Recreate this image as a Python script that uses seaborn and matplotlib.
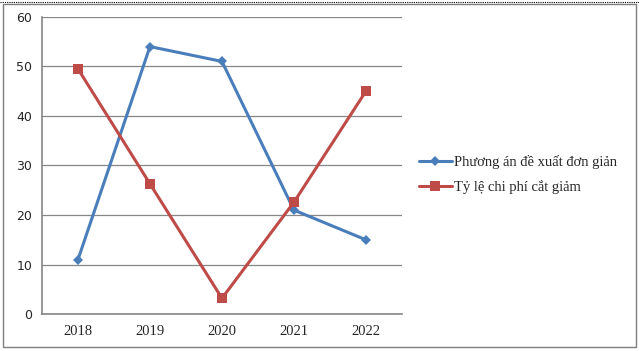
import numpy as np
import pandas as pd
import matplotlib.pyplot as plt
from matplotlib.patches import Rectangle
import seaborn as sns

years = ["2018", "2019", "2020", "2021", "2022"]
phuong_an = [11, 54, 51, 21, 15]
ty_le = [49.5, 26.3, 3.2, 22.6, 45]
series_names = ["Phương án đề xuất đơn giản", "Tỷ lệ chi phí cắt giảm"]

df = pd.DataFrame({
    "year": years * 2,
    "value": phuong_an + ty_le,
    "series": [series_names[0]] * len(years) + [series_names[1]] * len(years),
})
df["pos"] = df["year"].map({y: i for i, y in enumerate(years)})

sns.set_style("white")
plt.rcParams["font.family"] = ["DejaVu Sans"]

fig = plt.figure(figsize=(6.39, 3.51), dpi=100)
ax = fig.add_axes([0.0657, 0.105, 0.5633, 0.847])

palette = {series_names[0]: "#4A7EBB", series_names[1]: "#BE4B48"}
markers = {series_names[0]: "D", series_names[1]: "s"}
sizes = {series_names[0]: 5, series_names[1]: 7.5}

for name in series_names:
    sub = df[df["series"] == name]
    sns.lineplot(data=sub, x="pos", y="value", color=palette[name], marker=markers[name],
                 markersize=sizes[name], markeredgewidth=0, linewidth=2.2, ax=ax, label=name)

ax.set_xlim(-0.5, 4.5)
ax.set_ylim(0, 60)
ax.set_yticks(range(0, 61, 10))
ax.set_xticks(range(len(years)))
ax.set_xticklabels(years, fontfamily="Liberation Serif", fontsize=10.5)
ax.set_xticks(np.arange(-0.5, 4.6, 1), minor=True)
ax.tick_params(axis="x", which="major", length=0, pad=8)
ax.tick_params(axis="x", which="minor", length=4, color="#868686", direction="out")
ax.tick_params(axis="y", length=4, color="#868686", direction="out", labelsize=9, pad=3)
ax.set_xlabel("")
ax.set_ylabel("")
ax.yaxis.grid(True, color="#868686", linewidth=0.9)
ax.set_axisbelow(True)
for s in ["top", "right"]:
    ax.spines[s].set_visible(False)
for s in ["left", "bottom"]:
    ax.spines[s].set_color("#868686")
    ax.spines[s].set_linewidth(1.2)

leg = ax.legend(loc="center left", bbox_to_anchor=(1.01, 0.47), frameon=False,
                prop={"family": "Liberation Serif", "size": 10.5}, handlelength=2.3,
                handletextpad=0.1, labelspacing=0.75)

fig.patches.append(Rectangle((0.005, 0.01), 0.99, 0.98, transform=fig.transFigure,
                             fill=False, edgecolor="#7f7f7f", linewidth=1))
fig.lines.append(plt.Line2D([0, 1], [0.995, 0.995], transform=fig.transFigure,
                            color="black", linewidth=0.8, linestyle=(0, (1, 1))))

fig.savefig("out.png", dpi=100)
